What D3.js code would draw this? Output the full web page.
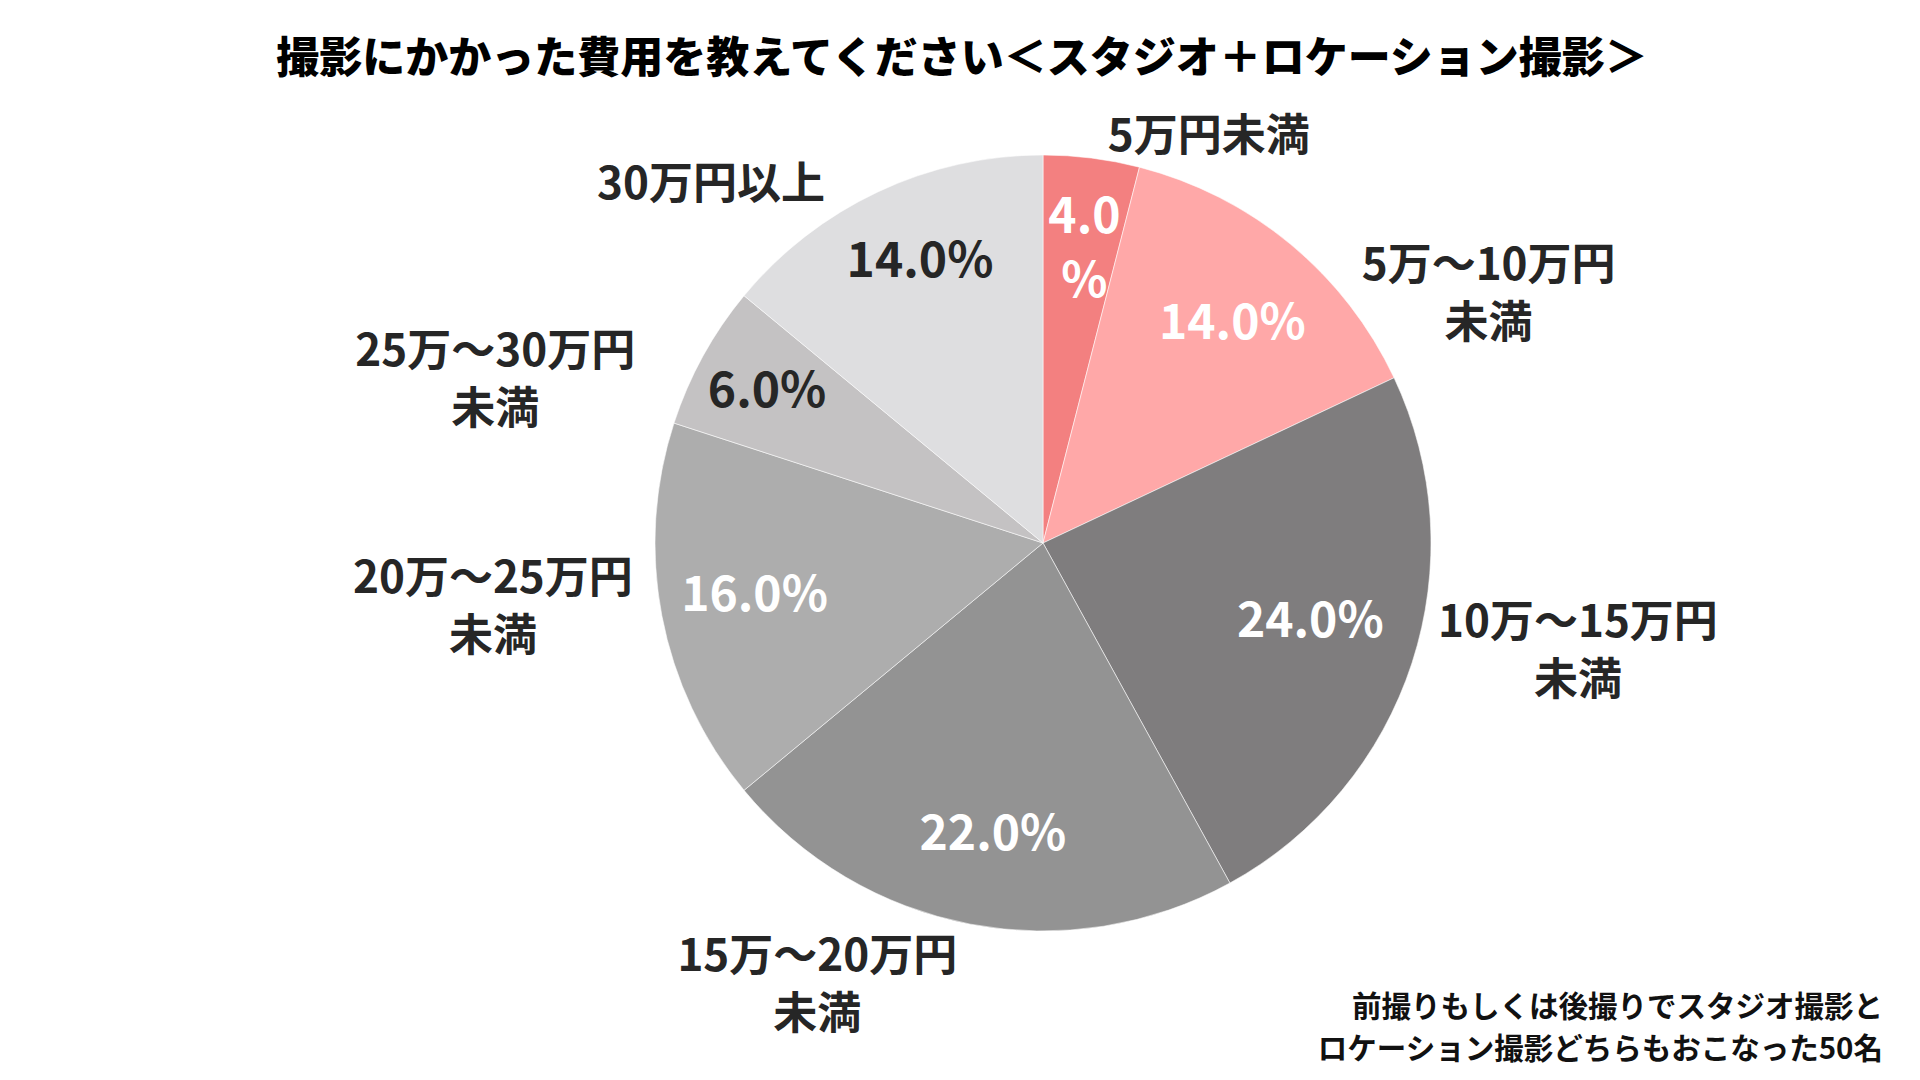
<!DOCTYPE html>
<html>
<head>
<meta charset="utf-8">
<script src="https://cdn.jsdelivr.net/npm/d3@7"></script>
<style>
  body { margin: 0; background: #fff; }
  svg { display: block; }
</style>
</head>
<body>
<script>
//chart data
var categories = ["5万円未満", "5万〜10万円\n未満", "10万〜15万円\n未満", "15万〜20万円\n未満",
                  "20万〜25万円\n未満", "25万〜30万円\n未満", "30万円以上"];
var shares = [4.0, 14.0, 24.0, 22.0, 16.0, 6.0, 14.0];
var titleText = "撮影にかかった費用を教えてください＜スタジオ＋ロケーション撮影＞";
var noteLines = ["前撮りもしくは後撮りでスタジオ撮影と", "ロケーション撮影どちらもおこなった50名"];

//styling
var sliceColors = ["#f38080", "#ffa8a8", "#7f7d7e", "#939393", "#adadad", "#c4c2c3", "#dedee0"];
var valueColors = ["#fff", "#fff", "#fff", "#fff", "#fff", "#262626", "#262626"];

//label placement: shift (degrees) from slice middle, distance as multiple of radius
var nameShift = [14.9, 21.1, -6.7, 16.3, 4.3, -12.1, -17.5];
var nameReach = [1.135, 1.317, 1.406, 1.277, 1.427, 1.474, 1.262];
var valueShift = [0.8, 1.0, -1.9, -1.0, 0.8, 0.3, 1.7];
var valueReach = [0.768, 0.75, 0.717, 0.758, 0.755, 0.814, 0.795];

var width = 1920, height = 1080;
var cx = 1043, cy = 543, radius = 388;
var font = "'Noto Sans CJK JP', 'Noto Sans', sans-serif";

var svg = d3.select("body").append("svg")
    .attr("width", width)
    .attr("height", height);

//title
svg.append("text")
    .attr("x", 962)
    .attr("y", 58)
    .attr("dy", "0.36em")
    .attr("text-anchor", "middle")
    .attr("font-family", font)
    .attr("font-weight", 900)
    .attr("font-size", 43)
    .attr("fill", "#000")
    .text(titleText);

//pie
var pie = d3.pie().sort(null).value(function(d){ return d; });
var arcs = pie(shares);
var arc = d3.arc().innerRadius(0).outerRadius(radius);

var chartGroup = svg.append("g")
    .attr("transform", "translate(" + cx + "," + cy + ")");

chartGroup.selectAll("path.slice")
    .data(arcs)
    .enter().append("path")
        .attr("class", "slice")
        .attr("d", arc)
        .attr("fill", function(d,i){ return sliceColors[i]; })
        .attr("stroke", "#fff")
        .attr("stroke-opacity", 0.55)
        .attr("stroke-width", 1);

//helper: multi-line centered text
function addLines(g, lines, x, y, size, step, color) {
    var t = g.append("text")
        .attr("text-anchor", "middle")
        .attr("font-family", font)
        .attr("font-weight", 700)
        .attr("font-size", size)
        .attr("fill", color);
    lines.forEach(function(line, k){
        t.append("tspan")
            .attr("x", x)
            .attr("y", y + (k - (lines.length - 1) / 2) * step)
            .attr("dy", "0.36em")
            .text(line);
    });
}

//polar position around the pie centre (angle 0 = 12 o'clock, clockwise)
function polar(a, r) {
    return [r * Math.sin(a), -r * Math.cos(a)];
}

//percentage labels inside slices
var fmt = d3.format(".1f");
arcs.forEach(function(d, i){
    var a = (d.startAngle + d.endAngle) / 2 + valueShift[i] * Math.PI / 180;
    var p = polar(a, radius * valueReach[i]);
    var txt = fmt(d.data);
    //narrow slice: the percent sign wraps onto its own line
    var lines = d.data < 5 ? [txt, "%"] : [txt + "%"];
    addLines(chartGroup, lines, p[0], p[1], 48, 64, valueColors[i]);
});

//category labels outside
arcs.forEach(function(d, i){
    var a = (d.startAngle + d.endAngle) / 2 + nameShift[i] * Math.PI / 180;
    var p = polar(a, radius * nameReach[i]);
    addLines(chartGroup, categories[i].split("\n"), p[0], p[1], 44, 58, "#262626");
});

//note at bottom right
var note = svg.append("text")
    .attr("text-anchor", "end")
    .attr("font-family", font)
    .attr("font-weight", 700)
    .attr("font-size", 29.5)
    .attr("fill", "#111");
noteLines.forEach(function(line, k){
    note.append("tspan")
        .attr("x", 1883)
        .attr("y", 1006 + k * 42)
        .attr("dy", "0.36em")
        .text(line);
});
</script>
</body>
</html>
